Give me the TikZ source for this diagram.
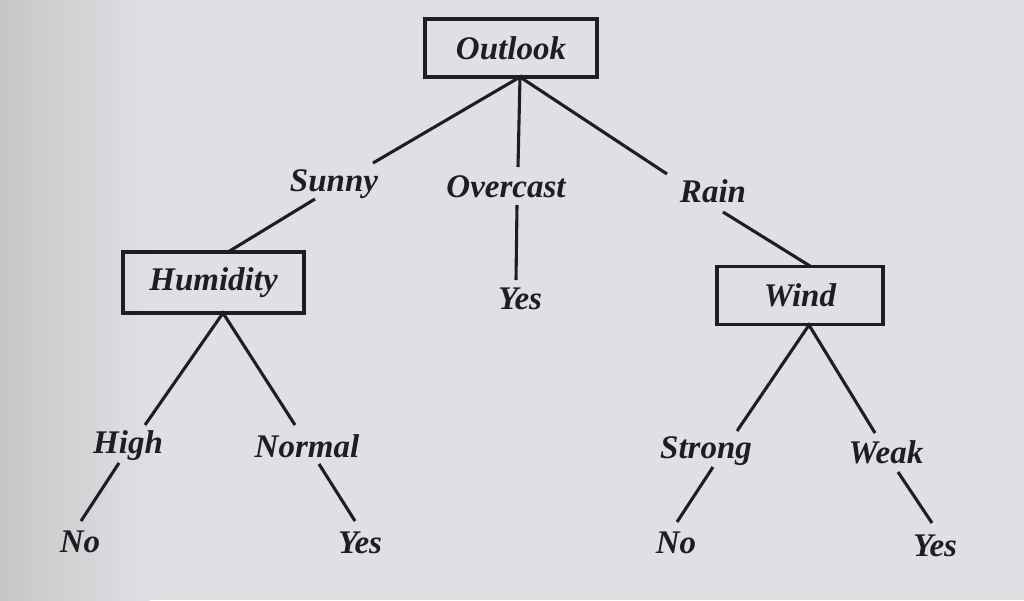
\documentclass[tikz,border=0pt]{standalone}
\usepackage{fontspec}
\setmainfont{Liberation Serif}
\definecolor{inkc}{RGB}{30,30,34}
\definecolor{paper}{RGB}{223,224,227}
\definecolor{paperdark}{RGB}{198,198,200}
\begin{document}
\begin{tikzpicture}[x=1pt,y=-1pt,
  ink/.style={draw=inkc, line width=3.1pt},
  lbl/.style={inner sep=0pt, text=inkc,
    font=\fontsize{33}{36}\selectfont\bfseries\itshape},
  attr/.style={lbl, draw=inkc, line width=3.1pt,
    rectangle, minimum height=58pt}
]
\useasboundingbox (0,0) rectangle (1024,600);
\fill[paper] (0,0) rectangle (1024,600);
\shade[left color=paperdark, right color=paper] (0,0) rectangle (150,600);

% attribute boxes
\node[attr, minimum width=172pt] (outlook) at (511,48) {Outlook};
\node[attr, minimum width=181pt, minimum height=61pt] (humidity) at (213.5,282.5) {Humidity};
\node[attr, minimum width=166pt] (wind) at (800,295.5) {Wind};

% value labels
\node[lbl] (sunny) at (334,184) {Sunny};
\node[lbl] (overcast) at (506,187) {Overcast};
\node[lbl] (rain) at (713,191) {Rain};
\node[lbl] (yes1) at (520,299) {Yes};
\node[lbl] (high) at (128,446) {High};
\node[lbl] (normal) at (307,446) {Normal};
\node[lbl] (strong) at (706,451) {Strong};
\node[lbl] (weak) at (886,452) {Weak};
\node[lbl] (no1) at (80,542) {No};
\node[lbl] (yes2) at (360,543) {Yes};
\node[lbl] (no2) at (676,543) {No};
\node[lbl] (yes3) at (935,546) {Yes};

% connector end points
\coordinate (oR) at (520,77);
\coordinate (oS) at (373,163);
\coordinate (oO) at (518,167);
\coordinate (oW) at (667,174);
\coordinate (sA) at (315,199);
\coordinate (sB) at (228,252);
\coordinate (cA) at (517,205);
\coordinate (cB) at (516,280);
\coordinate (rA) at (723,212);
\coordinate (rB) at (810,266);
\coordinate (hR) at (223,313);
\coordinate (hH) at (145,425);
\coordinate (hN) at (295,425);
\coordinate (gA) at (119,463);
\coordinate (gB) at (81,521);
\coordinate (nA) at (319,464);
\coordinate (nB) at (355,521);
\coordinate (wR) at (809,325);
\coordinate (wS) at (737,431);
\coordinate (wW) at (875,433);
\coordinate (tA) at (713,467);
\coordinate (tB) at (677,522);
\coordinate (kA) at (898,472);
\coordinate (kB) at (932,523);

\draw[ink] (oS) -- (oR) -- (oO);
\draw[ink] (oR) -- (oW);
\draw[ink] (sA) -- (sB);
\draw[ink] (cA) -- (cB);
\draw[ink] (rA) -- (rB);
\draw[ink] (hH) -- (hR) -- (hN);
\draw[ink] (gA) -- (gB);
\draw[ink] (nA) -- (nB);
\draw[ink] (wS) -- (wR) -- (wW);
\draw[ink] (tA) -- (tB);
\draw[ink] (kA) -- (kB);
\end{tikzpicture}
\end{document}
